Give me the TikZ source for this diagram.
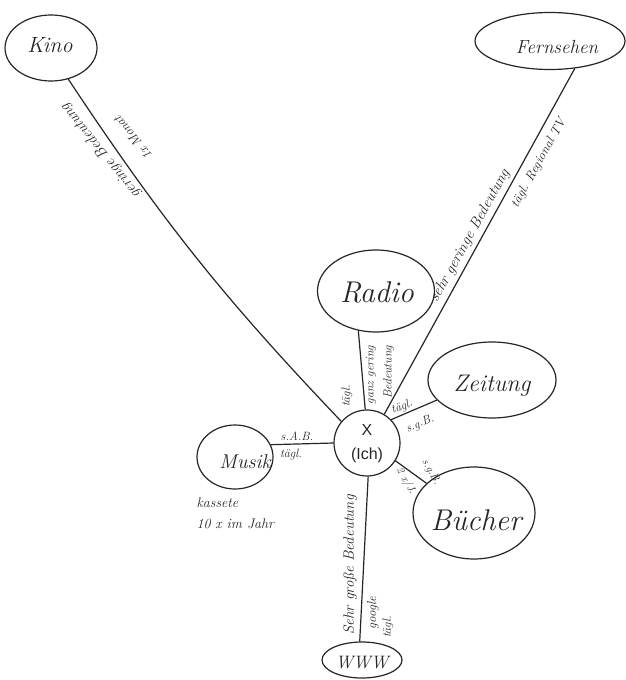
\documentclass[tikz,border=0pt]{standalone}
\usepackage{fontspec}
\usetikzlibrary{shapes.geometric}
\newfontfamily\printfont{Liberation Sans}
\definecolor{ink}{HTML}{262626}
\newcommand\penfont[2]{\fontsize{#1}{#2}\selectfont\itshape}
\begin{document}
\begin{tikzpicture}[x=1pt, y=-1pt, line width=1.2pt, draw=ink,
  blob/.style={draw=ink, ellipse, inner sep=0pt},
  scrawl/.style={text=ink, inner sep=0pt, font=\penfont{#1}{#1}},
  scrawlpara/.style 2 args={text=ink, inner sep=0pt, font=\penfont{#1}{#2}}]
\useasboundingbox (0,0) rectangle (626,680);
\fill[white] (0,0) rectangle (626,680);

% media bubbles
\node[blob, minimum width=92pt,  minimum height=66pt] (kino)  at (51,48)   {};
\node[blob, minimum width=150pt, minimum height=57pt] (fern)  at (550,41)  {};
\node[blob, minimum width=117pt, minimum height=82pt] (radio) at (376,291) {};
\node[blob, minimum width=128pt, minimum height=76pt] (zeit)  at (492,380) {};
\node[blob, minimum width=122pt, minimum height=92pt] (buch)  at (474,513) {};
\node[blob, minimum width=76pt,  minimum height=64pt] (musik) at (235,457) {};
\node[blob, minimum width=80pt,  minimum height=36pt] (www)   at (362,660) {};
\node[draw=ink, circle, minimum size=66pt, inner sep=0pt] (ich) at (367,443) {};

% bubble captions
\node[scrawl=22] (kinoT)  at (50,45)   {Kino};
\node[scrawl=19] (fernT)  at (557,47)  {Fernsehen};
\node[scrawl=30] (radioT) at (377,292) {Radio};
\node[scrawl=24] (zeitT)  at (492,386) {Zeitung};
\node[scrawl=30] (buchT)  at (476,520) {Bücher};
\node[scrawl=20] (musikT) at (245,462) {Musik};
\node[scrawl=18] (wwwT)   at (362,663) {WWW};
\node[text=ink, inner sep=0pt, align=center,
      font=\printfont\fontsize{16}{24}\selectfont] (ichT) at (367,444) {X\\(Ich)};

% connectors
\draw (kino.-61)   to[bend right=5] (ich.140);
\draw (fern.-48)   -- (ich.59);
\draw (radio.-114) -- (ich.93);
\draw (zeit.200)   -- (ich.44);
\draw (buch.148)   -- (ich.-32);
\draw (musik.19)   -- (ich.180);
\draw (ich.-88)    -- (www.97);

% notes along the connectors
\node[scrawl=13, rotate=129] (kinoA) at (133,138) {1x Monat};
\node[scrawl=15, rotate=129] (kinoB) at (101,151) {geringe Bedeutung};
\node[scrawl=15, rotate=61]  (fernA) at (470,236) {sehr geringe Bedeutung};
\node[scrawl=13, rotate=61]  (fernB) at (539,163) {tägl. Regional TV};
\node[scrawl=12, rotate=90]  (radA)  at (347,396) {tägl.};
\node[scrawlpara={12}{18}, rotate=90, align=right] (radB) at (380,375) {ganz gering\\Bedeutung};
\node[scrawl=12, rotate=22]  (zeitA) at (402,407) {tägl.};
\node[scrawl=12, rotate=22]  (zeitB) at (420,424) {s.g.B.};
\node[scrawl=11, rotate=-60] (buchA) at (406,481) {2 x/J.};
\node[scrawl=11, rotate=-60] (buchB) at (431,472) {s.g.B.};
\node[scrawl=12] (musA) at (297,436) {s.A.B.};
\node[scrawl=12] (musB) at (291,455) {tägl.};
\node[scrawlpara={14}{21}, align=left, anchor=north west] (kass) at (196,497) {kassete\\10 x im Jahr};
\node[scrawl=15, rotate=90] (wwwA) at (350,565) {Sehr große Bedeutung};
\node[scrawl=13, rotate=90] (wwwB) at (373,613) {google};
\node[scrawl=12, rotate=90] (wwwC) at (388,627) {tägl.};
\end{tikzpicture}
\end{document}
